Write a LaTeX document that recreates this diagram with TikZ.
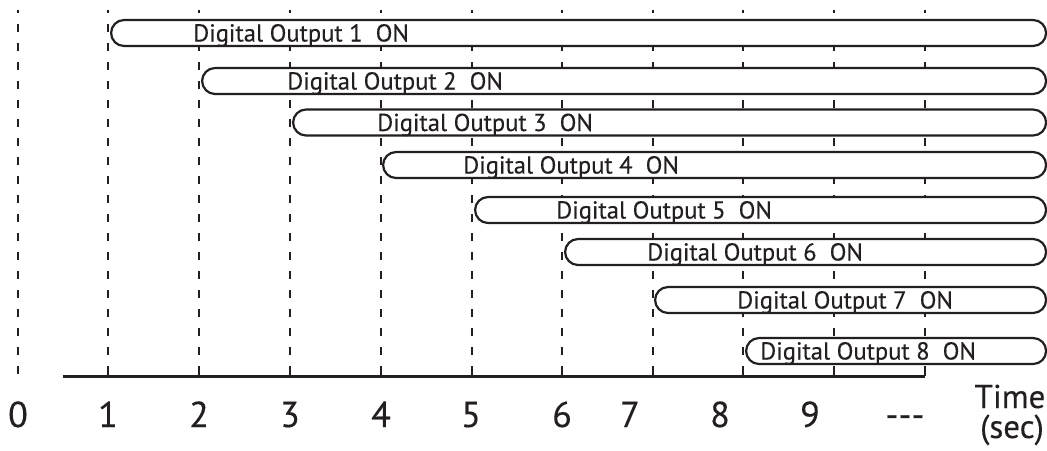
\documentclass[tikz,border=0pt]{standalone}
\usepackage{fontspec}
\setmainfont{PT Sans}[FakeBold=0.35]
\definecolor{ink}{HTML}{231F20}
\tikzset{
  gridline/.style={draw=ink, line width=2.6pt, dash pattern=on 8pt off 11pt, dash phase=5pt},
  axisline/.style={draw=ink, line width=3pt},
  tickmark/.style={draw=ink, line width=2.6pt},
  onbox/.style={draw=ink, fill=white, line width=2.2pt, rounded corners=13pt, minimum height=26pt, inner sep=0pt, anchor=west},
  onlabel/.style={font=\fontsize{24.5}{28}\selectfont, text=ink, anchor=base west, inner sep=0pt},
  numlabel/.style={font=\fontsize{36}{40}\selectfont, text=ink, anchor=base, inner sep=0pt},
  unitlabel/.style={font=\fontsize{33}{36}\selectfont, text=ink, anchor=base, inner sep=0pt},
}
\begin{document}
\begin{tikzpicture}[x=1pt,y=-1pt]
\useasboundingbox (0,0) rectangle (1047,450);
% grid lines
\foreach \n/\x in {0/18,1/108,2/199,3/290,4/381,5/472,6/562,7/653,8/743,9/834,10/925}{
  \coordinate (t\n) at (\x,10);
  \coordinate (a\n) at (\x,376);
  \draw[gridline] (t\n) -- (a\n);
}
% axis
\coordinate (ax0) at (63,376);
\coordinate (ax1) at (925,376);
\draw[axisline] (ax0) -- (ax1);
\foreach \n/\x in {1/108,2/199,3/290,4/381,5/472,6/562,7/653,8/743,9/834,10/925}{
  \coordinate (k\n) at (\x,368);
  \draw[tickmark] (k\n) -- (a\n);
}
% boxes
\foreach \n/\x/\y/\tx in {1/110/33/193,2/201/81/287,3/292/122.5/377,4/382/165/463,5/474/210/556,6/564/252/647,7/654/300/737,8/745/351/760}{
  \pgfmathsetmacro{\w}{1045-\x}
  \node[onbox, minimum width=\w pt] (b\n) at (\x,\y) {};
  \node[onlabel] (l\n) at (\tx,\y+8.5) {Digital Output \n\ \ ON};
}
% axis labels
\foreach \n/\x/\t in {0/18/0,1/108/1,2/199/2,3/290/3,4/381/4,5/471/5,6/562/6,7/630/7,8/720/8,9/810/9,10/905/{-{}-{}-}}{
  \node[numlabel] (n\n) at (\x,427) {\t};
}
\node[unitlabel] (time) at (1010,408) {Time};
\node[unitlabel] (sec) at (1012,438) {(sec)};
\end{tikzpicture}
\end{document}
